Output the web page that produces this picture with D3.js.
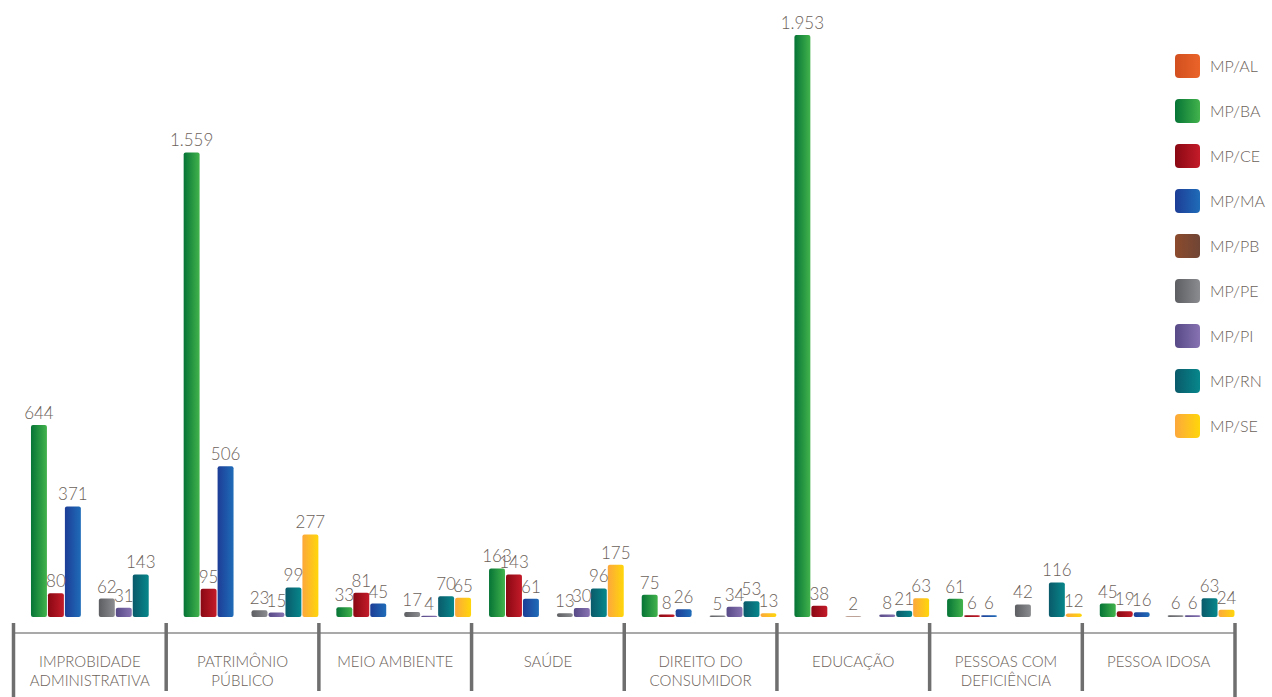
<!DOCTYPE html>
<html>
<head>
<meta charset="utf-8">
<script src="https://cdn.jsdelivr.net/npm/d3@7"></script>
<style>
  html, body { margin: 0; padding: 0; background: #ffffff; }
  svg { display: block; }
  text { font-family: "Lato", "DejaVu Sans", sans-serif; font-weight: 300; }
</style>
</head>
<body>
<svg id="chart" width="1272" height="697"></svg>
<script>
// ---- data ----
const categories = [
  "IMPROBIDADE ADMINISTRATIVA", "PATRIMÔNIO PÚBLICO", "MEIO AMBIENTE", "SAÚDE",
  "DIREITO DO CONSUMIDOR", "EDUCAÇÃO", "PESSOAS COM DEFICIÊNCIA", "PESSOA IDOSA"
];
const categoryLines = [
  ["IMPROBIDADE", "ADMINISTRATIVA"], ["PATRIMÔNIO", "PÚBLICO"], ["MEIO AMBIENTE"], ["SAÚDE"],
  ["DIREITO DO", "CONSUMIDOR"], ["EDUCAÇÃO"], ["PESSOAS COM", "DEFICIÊNCIA"], ["PESSOA IDOSA"]
];
const seriesNames = ["MP/AL", "MP/BA", "MP/CE", "MP/MA", "MP/PB", "MP/PE", "MP/PI", "MP/RN", "MP/SE"];
const valuesAL = [null, null, null, null, null, null, null, null];
const valuesBA = [644, 1559, 33, 163, 75, 1953, 61, 45];
const valuesCE = [80, 95, 81, 143, 8, 38, 6, 19];
const valuesMA = [371, 506, 45, 61, 26, null, 6, 16];
const valuesPB = [null, null, null, null, null, 2, null, null];
const valuesPE = [62, 23, 17, 13, 5, null, 42, 6];
const valuesPI = [31, 15, 4, 30, 34, 8, null, 6];
const valuesRN = [143, 99, 70, 96, 53, 21, 116, 63];
const valuesSE = [null, 277, 65, 175, 13, 63, 12, 24];
const seriesValues = [valuesAL, valuesBA, valuesCE, valuesMA, valuesPB, valuesPE, valuesPI, valuesRN, valuesSE];

// gradient colours (left, right) per series
const gradStops = [
  ["#d24f1f", "#ea6429"],
  ["#067436", "#42b34c"],
  ["#890813", "#c41b29"],
  ["#1d3d96", "#1f6cb9"],
  ["#8c4b2d", "#704535"],
  ["#5d5e61", "#8b8c8f"],
  ["#574a86", "#8772b2"],
  ["#0a5a6a", "#07878b"],
  ["#fca83c", "#ffd60a"]
];

const svg = d3.select("#chart");
const textColor = "#6b6159";

// gradients
const defs = svg.append("defs");
seriesNames.forEach((s, i) => {
  const g = defs.append("linearGradient").attr("id", "g" + i)
    .attr("x1", "0").attr("x2", "1").attr("y1", "0").attr("y2", "0");
  g.append("stop").attr("offset", "0%").attr("stop-color", gradStops[i][0]);
  g.append("stop").attr("offset", "100%").attr("stop-color", gradStops[i][1]);
});

// scales
const x0 = d3.scaleBand().domain(categories).range([13.5, 1235]).padding(0);
const x1 = d3.scaleBand().domain(seriesNames).range([0, x0.bandwidth()]).paddingInner(0.06).paddingOuter(0.03);
const y = d3.scaleLinear().domain([0, 1953]).range([617, 35]);

// flat data
const cells = [];
categories.forEach((c, ci) => {
  seriesNames.forEach((s, si) => {
    const v = seriesValues[si][ci];
    if (v !== null && v !== undefined) cells.push({ c, s, si, v });
  });
});

// bars
svg.append("g").selectAll("rect").data(cells).join("rect")
  .attr("x", d => x0(d.c) + x1(d.s))
  .attr("width", x1.bandwidth())
  .attr("y", d => y(d.v))
  .attr("height", d => Math.max(0, y(0) - y(d.v)))
  .attr("rx", 2)
  .attr("fill", d => `url(#g${d.si})`);

// value labels
const fmt = d3.formatLocale({ decimal: ",", thousands: ".", grouping: [3], currency: ["", ""] }).format(",d");
svg.append("g").selectAll("text").data(cells).join("text")
  .attr("x", d => x0(d.c) + x1(d.s) + x1.bandwidth() / 2)
  .attr("y", d => y(d.v) - 6)
  .attr("text-anchor", "middle")
  .attr("font-size", 17)
  .attr("fill", textColor)
  .text(d => fmt(d.v));

// axis: horizontal line and separators
const axisG = svg.append("g");
axisG.append("line")
  .attr("x1", x0.range()[0]).attr("x2", x0.range()[1])
  .attr("y1", 633).attr("y2", 633)
  .attr("stroke", "#8c8c8c").attr("stroke-width", 1.5);
const seps = categories.map(c => x0(c)).concat([x0.range()[1]]);
axisG.selectAll("line.sep").data(seps).join("line")
  .attr("class", "sep")
  .attr("x1", d => d).attr("x2", d => d)
  .attr("y1", 623)
  .attr("y2", (d, i) => (i === 0 || i === seps.length - 1) ? 697 : 691)
  .attr("stroke", "#6f6f70").attr("stroke-width", 3.5);

// category labels
const catG = svg.append("g").selectAll("text").data(categories).join("text")
  .attr("x", d => x0(d) + x0.bandwidth() / 2)
  .attr("y", 667)
  .attr("text-anchor", "middle")
  .attr("font-size", 15)
  .attr("fill", textColor);
catG.each(function (d, i) {
  const t = d3.select(this);
  categoryLines[i].forEach((line, li) => {
    t.append("tspan").attr("x", x0(d) + x0.bandwidth() / 2).attr("dy", li === 0 ? 0 : 19).text(line);
  });
});

// legend
const leg = svg.append("g").selectAll("g").data(seriesNames).join("g")
  .attr("transform", (d, i) => `translate(1175, ${54 + i * 45})`);
leg.append("rect").attr("width", 25).attr("height", 24).attr("rx", 4)
  .attr("fill", (d, i) => `url(#g${i})`);
leg.append("text").attr("x", 35).attr("y", 12).attr("dy", "0.35em")
  .attr("font-size", 16).attr("fill", textColor).text(d => d);
</script>
</body>
</html>
